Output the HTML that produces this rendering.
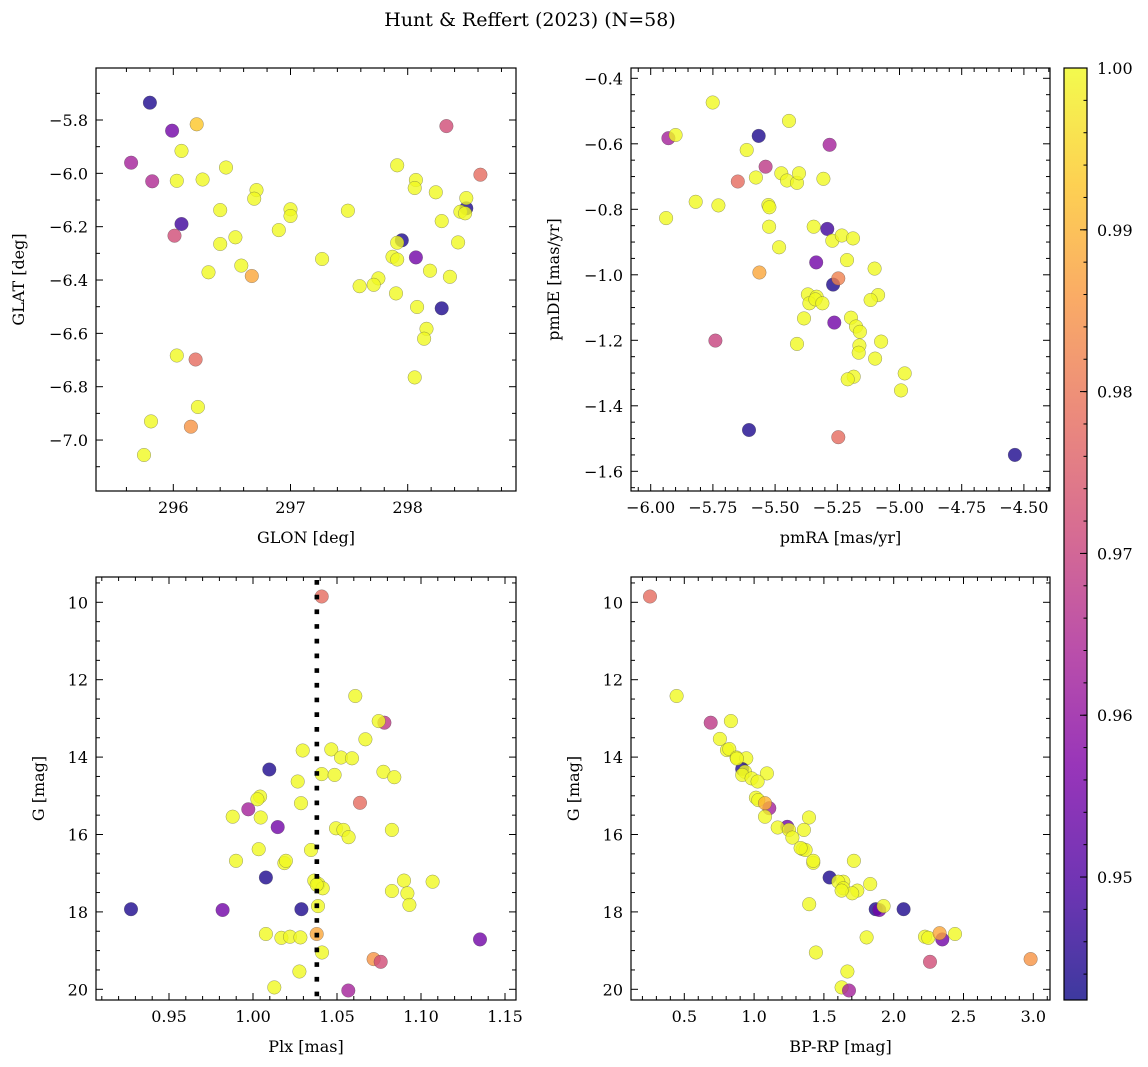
<!DOCTYPE html>
<html><head><meta charset="utf-8"><title>Hunt & Reffert (2023)</title>
<style>
html,body{margin:0;padding:0;background:#fff;}
svg{display:block;font-family:"DejaVu Serif","Liberation Serif",serif;}
</style></head>
<body>
<svg id="fig" width="1148" height="1067" viewBox="0 0 1148 1067" xmlns="http://www.w3.org/2000/svg">
<defs>
<linearGradient id="plasma" x1="0" y1="1" x2="0" y2="0">
<stop offset="0" stop-color="#0d0887"/><stop offset="0.125" stop-color="#4c02a1"/>
<stop offset="0.25" stop-color="#7e03a8"/><stop offset="0.375" stop-color="#a92395"/>
<stop offset="0.5" stop-color="#cc4778"/><stop offset="0.625" stop-color="#e66c5c"/>
<stop offset="0.75" stop-color="#f89540"/><stop offset="0.875" stop-color="#fdc527"/>
<stop offset="1" stop-color="#f0f921"/>
</linearGradient>
</defs>
<text x="530" y="26" font-size="19" text-anchor="middle">Hunt &amp; Reffert (2023) (N=58)</text>
</svg>
<script>
// ---- data ----
const glon=[295.80,295.99,296.20,296.07,295.64,295.82,296.03,296.25,296.45,296.71,296.69,296.40,297.00,297.00,297.49,296.07,296.01,296.90,296.40,296.53,296.30,296.58,296.67,297.27,296.03,296.19,296.21,295.81,296.15,295.75,298.33,297.91,298.07,298.06,298.24,298.62,298.50,298.50,298.45,298.49,298.29,297.95,297.91,298.43,298.07,297.87,297.91,298.19,298.36,297.75,297.71,297.59,297.90,298.29,298.08,298.16,298.14,298.06];
const glat=[-5.735,-5.84,-5.816,-5.916,-5.96,-6.03,-6.028,-6.023,-5.978,-6.063,-6.095,-6.138,-6.135,-6.16,-6.14,-6.19,-6.234,-6.213,-6.265,-6.24,-6.371,-6.346,-6.385,-6.321,-6.683,-6.698,-6.876,-6.93,-6.95,-7.056,-5.823,-5.97,-6.025,-6.055,-6.071,-6.005,-6.131,-6.093,-6.144,-6.15,-6.179,-6.251,-6.26,-6.259,-6.315,-6.313,-6.323,-6.365,-6.388,-6.394,-6.418,-6.423,-6.45,-6.506,-6.501,-6.583,-6.62,-6.765];
const prob1=[0.944,0.955,0.993,1,0.963,0.965,1,1,1,1,1,1,1,1,1,0.948,0.972,1,1,1,1,1,0.988,1,1,0.978,1,1,0.985,1,0.972,1,1,1,1,0.978,0.944,1,1,1,1,0.944,1,1,0.955,1,1,1,1,1,1,1,1,0.944,1,1,1,1];

const pmra=[-5.751,-5.444,-5.929,-5.900,-5.566,-5.281,-5.614,-5.538,-5.650,-5.577,-5.475,-5.452,-5.412,-5.404,-5.306,-5.819,-5.728,-5.938,-5.527,-5.523,-5.524,-5.345,-5.290,-5.270,-5.232,-5.187,-5.484,-5.211,-5.335,-5.100,-5.563,-5.267,-5.246,-5.368,-5.333,-5.362,-5.338,-5.310,-5.086,-5.116,-5.384,-5.195,-5.262,-5.175,-5.159,-5.740,-5.412,-5.074,-5.161,-5.164,-5.098,-4.979,-5.184,-5.208,-4.994,-5.605,-5.246,-4.536];
const pmde=[-0.474,-0.530,-0.583,-0.573,-0.576,-0.603,-0.619,-0.670,-0.715,-0.703,-0.690,-0.712,-0.719,-0.690,-0.707,-0.777,-0.788,-0.827,-0.787,-0.794,-0.853,-0.853,-0.860,-0.896,-0.880,-0.889,-0.916,-0.955,-0.962,-0.981,-0.993,-1.030,-1.011,-1.060,-1.067,-1.087,-1.075,-1.087,-1.062,-1.077,-1.133,-1.131,-1.146,-1.158,-1.174,-1.201,-1.211,-1.204,-1.216,-1.238,-1.256,-1.301,-1.311,-1.319,-1.353,-1.474,-1.496,-1.550];
const prob2=[1,1,0.963,1,0.944,0.963,1,0.968,0.978,1,1,1,1,1,1,1,1,1,1,1,1,1,0.948,1,1,1,1,1,0.955,1,0.988,0.944,0.982,1,1,1,1,1,1,1,1,1,0.955,1,1,0.970,1,1,1,1,1,1,1,1,1,0.944,0.978,0.944];

const plx=[1.0409,1.0609,1.0782,1.0748,1.0669,1.0296,1.0466,1.0524,1.0589,1.0097,1.0409,1.0486,1.0776,1.0841,1.0266,1.0042,1.0026,1.0286,1.0637,0.9972,0.9879,1.0046,1.0147,1.0494,1.0538,1.0569,1.0827,1.0034,1.0345,0.9899,1.0187,1.0196,1.0077,1.0365,1.0389,1.0415,1.0899,1.1069,1.0827,1.0919,1.0931,1.0387,0.9274,0.9819,1.0288,1.0077,1.0169,1.0220,1.0282,1.0379,1.1351,1.0411,1.0718,1.0760,1.0276,1.0127,1.0567,1.0379];
const gmag3=[9.85,12.42,13.11,13.07,13.54,13.83,13.80,14.01,14.03,14.32,14.44,14.46,14.38,14.52,14.63,15.02,15.09,15.19,15.18,15.35,15.54,15.56,15.81,15.84,15.88,16.07,15.88,16.38,16.40,16.68,16.74,16.68,17.11,17.19,17.28,17.39,17.19,17.22,17.46,17.52,17.82,17.85,17.93,17.95,17.93,18.57,18.67,18.64,18.66,18.57,18.71,19.05,19.22,19.29,19.54,19.95,20.03,17.30];
const prob3=[0.978,1,0.968,1,1,1,1,1,1,0.944,1,1,1,1,1,1,1,1,0.978,0.963,1,1,0.955,1,1,1,1,1,1,1,1,1,0.944,1,1,1,1,1,1,1,1,1,0.944,0.955,0.944,1,1,1,1,0.988,0.955,1,0.985,0.972,1,1,0.963,1];
const plxLine=[1.038];

const bprp=[0.254,0.445,0.689,0.834,0.755,0.806,0.822,0.875,0.944,0.915,0.935,0.915,1.092,0.982,1.025,1.013,1.030,1.109,1.078,1.078,1.393,1.238,1.169,1.250,1.274,1.357,1.348,1.369,1.424,1.424,1.715,1.541,1.639,1.603,1.639,1.739,1.703,1.832,1.395,1.871,1.897,1.928,2.071,1.806,2.224,2.248,2.348,2.329,2.439,1.443,2.260,2.981,1.668,1.627,1.680,0.877,1.333,1.627];
const gmag4=[9.85,12.42,13.11,13.07,13.53,13.82,13.79,14.01,14.03,14.31,14.38,14.46,14.42,14.55,14.63,15.05,15.11,15.32,15.19,15.54,15.56,15.80,15.82,15.88,16.08,15.88,16.38,16.40,16.73,16.68,16.68,17.11,17.22,17.22,17.39,17.45,17.52,17.28,17.80,17.93,17.95,17.85,17.93,18.66,18.64,18.67,18.71,18.55,18.57,19.05,19.29,19.22,19.54,19.95,20.03,14.04,16.35,17.45];
const prob4=[0.978,1,0.968,1,1,1,1,1,1,0.944,1,1,1,1,1,1,1,0.963,0.99,1,1,0.955,1,1,1,1,1,1,1,1,1,0.944,1,1,1,1,1,1,1,0.944,0.955,1,0.944,1,1,1,0.955,0.988,1,1,0.972,0.985,1,1,0.963,1,1,1];

const cbTicks=[0.95,0.96,0.97,0.98,0.99,1.00];

// ---- helpers ----
const NS="http://www.w3.org/2000/svg";
const svg=document.getElementById('fig');
function mk(tag,attrs,parent){const e=document.createElementNS(NS,tag);for(const k in attrs)e.setAttribute(k,attrs[k]);(parent||svg).appendChild(e);return e;}
const CMIN=0.9424,CMAX=1.0;
const stops=[[0,[13,8,135]],[0.125,[76,2,161]],[0.25,[126,3,168]],[0.375,[169,35,149]],[0.5,[204,71,120]],[0.625,[230,108,92]],[0.75,[248,149,64]],[0.875,[253,197,39]],[1,[240,249,33]]];
function plasma(v){let t=(v-CMIN)/(CMAX-CMIN);t=Math.max(0,Math.min(1,t));
 for(let i=0;i<stops.length-1;i++){const a=stops[i],b=stops[i+1];if(t<=b[0]){const f=(t-a[0])/(b[0]-a[0]);return 'rgb('+a[1].map((c,j)=>Math.round(c+(b[1][j]-c)*f)).join(',')+')';}}
 return 'rgb(240,249,33)';}
function fmt(v,d){const s=Math.abs(v).toFixed(d);return (v<-1e-9?'\u2212':'')+s;}

function panel(o){
 const g=mk('g',{});
 
 
 const X=v=>o.px0+(v-o.xv0)*o.xs, Y=v=>o.py0+(v-o.yv0)*o.ys;
 const L=o.L,R=o.R,T=o.T,B=o.B;
 const pg=mk('g',{},g);
 
 
 for(let i=0;i<o.xs_.length;i++){
  const c=mk('circle',{cx:X(o.xs_[i]).toFixed(1),cy:Y(o.ys_[i]).toFixed(1),r:6.8,fill:plasma(o.cs[i]),'fill-opacity':0.8,stroke:'rgba(70,70,70,0.55)','stroke-width':0.5},pg);
  
  
 }
 if(o.vline){for(const v of o.vline){const l=mk('line',{x1:X(v),x2:X(v),y1:T+3,y2:B,stroke:'#000','stroke-width':4.6,'stroke-dasharray':'4.7 10'},g);
  
  }}
 const f=mk('rect',{x:L,y:T,width:R-L,height:B-T,fill:'none',stroke:'#000','stroke-width':1.2},g);
 
 
 const tg=mk('g',{stroke:'#000','stroke-width':1},g);
 const eps=1e-6;
 for(let v=Math.ceil((o.xmin)/o.xminor-eps)*o.xminor;v<=o.xmax+eps;v+=o.xminor){const x=X(v);if(x<L||x>R)continue;
  const maj=Math.abs(v/o.xmajor-Math.round(v/o.xmajor))<1e-4;const len=maj?7:4;
  mk('line',{x1:x,x2:x,y1:B,y2:B-len},tg);mk('line',{x1:x,x2:x,y1:T,y2:T+len},tg);
  if(maj){const t=mk('text',{x:x,y:B+22,'font-size':16,'text-anchor':'middle',stroke:'none'},g);t.textContent=fmt(v,o.xd);
   }}
 for(let v=Math.ceil(Math.min(o.ymin,o.ymax)/o.yminor-eps)*o.yminor;v<=Math.max(o.ymin,o.ymax)+eps;v+=o.yminor){const y=Y(v);if(y<T||y>B)continue;
  const maj=Math.abs(v/o.ymajor-Math.round(v/o.ymajor))<1e-4;const len=maj?7:4;
  mk('line',{x1:L,x2:L+len,y1:y,y2:y},tg);mk('line',{x1:R,x2:R-len,y1:y,y2:y},tg);
  if(maj){const t=mk('text',{x:L-8,y:y+6,'font-size':16,'text-anchor':'end',stroke:'none'},g);t.textContent=fmt(v,o.yd);
   }}
 const xl=mk('text',{x:(L+R)/2,y:B+52,'font-size':16,'text-anchor':'middle'},g);xl.textContent=o.xlabel;
 
 const yl=mk('text',{x:0,y:0,'font-size':16,'text-anchor':'middle',transform:`translate(${o.ylx},${(T+B)/2}) rotate(-90)`},g);yl.textContent=o.ylabel;
 
}

panel({name:'glon-glat-panel',L:96,R:516,T:68,B:491,px0:173.3,xv0:296,xs:117.2,py0:120,yv0:-5.8,ys:-266.7,
 xmin:295.5,xmax:298.8,ymin:-7.3,ymax:-5.5,xminor:0.2,xmajor:1,yminor:0.1,ymajor:0.2,xd:0,yd:1,
 xs_:glon,ys_:glat,cs:prob1,xlabel:'GLON [deg]',ylabel:'GLAT [deg]',ylx:24});
panel({name:'proper-motion-panel',L:631,R:1050,T:68,B:491,px0:650.7,xv0:-6,xs:248.8,py0:78.3,yv0:-0.4,ys:-327.5,
 xmin:-6.1,xmax:-4.3,ymin:-1.7,ymax:-0.3,xminor:0.05,xmajor:0.25,yminor:0.05,ymajor:0.2,xd:2,yd:1,
 xs_:pmra,ys_:pmde,cs:prob2,xlabel:'pmRA [mas/yr]',ylabel:'pmDE [mas/yr]',ylx:559});
panel({name:'parallax-magnitude-panel',L:96,R:516,T:577,B:1000,px0:169,xv0:0.95,xs:1680,py0:602.3,yv0:10,ys:38.7,
 xmin:0.9,xmax:1.16,ymin:9,ymax:21,xminor:0.01,xmajor:0.05,yminor:0.5,ymajor:2,xd:2,yd:0,
 xs_:plx,ys_:gmag3,cs:prob3,vline:plxLine,xlabel:'Plx [mas]',ylabel:'G [mag]',ylx:44});
panel({name:'color-magnitude-panel',L:631,R:1050,T:577,B:1000,px0:684.3,xv0:0.5,xs:139.6,py0:602.3,yv0:10,ys:38.7,
 xmin:0,xmax:3.2,ymin:9,ymax:21,xminor:0.1,xmajor:0.5,yminor:0.5,ymajor:2,xd:1,yd:0,
 xs_:bprp,ys_:gmag4,cs:prob4,xlabel:'BP-RP [mag]',ylabel:'G [mag]',ylx:579});

// colorbar
(function(){
 const g=mk('g',{});
 
 
 const L=1064,R=1087,T=68,B=1000;
 const CY=v=>T+(CMAX-v)*(B-T)/(CMAX-CMIN);
 const r=mk('rect',{x:L,y:T,width:R-L,height:B-T,fill:'url(#plasma)','fill-opacity':0.8,stroke:'#000','stroke-width':1.2},g);
 
 
 for(let v=0.944;v<=1.0001;v+=0.002){const y=CY(v);mk('line',{x1:R,x2:R-3.5,y1:y,y2:y,stroke:'#000','stroke-width':1},g);}
 for(const v of cbTicks){const y=CY(v);mk('line',{x1:R,x2:R-7,y1:y,y2:y,stroke:'#000','stroke-width':1},g);
  const t=mk('text',{x:R+10,y:y+6,'font-size':16},g);t.textContent=v.toFixed(2);
  
  }
})();
</script>
</body></html>
